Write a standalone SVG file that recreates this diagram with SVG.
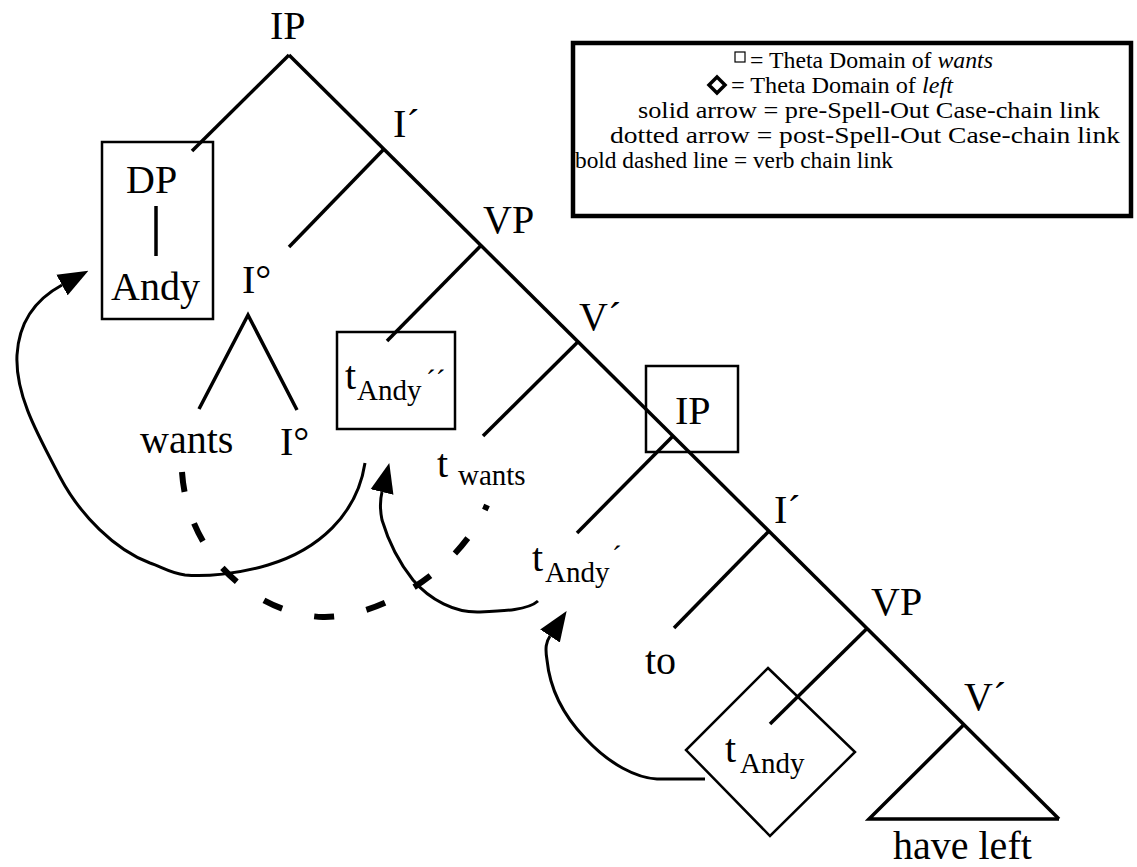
<svg xmlns="http://www.w3.org/2000/svg" width="1137" height="867" viewBox="0 0 1137 867">
  <style>
    .br { stroke: #000; stroke-width: 3.5; fill: none; stroke-linecap: butt; }
    .bx { stroke: #000; stroke-width: 2.5; fill: none; }
    .lb { font-family: "Liberation Serif", "Times New Roman", serif; font-size: 40px; fill: #000; }
    .sb { font-family: "Liberation Serif", "Times New Roman", serif; font-size: 29px; fill: #000; }
    .lg { font-family: "Liberation Serif", "Times New Roman", serif; font-size: 23px; fill: #000; }
    .arc { stroke: #000; stroke-width: 3; fill: none; stroke-linejoin: round; marker-end: url(#head); }
    .verb { stroke: #000; stroke-width: 6; fill: none; stroke-dasharray: 20 33; }
  </style>
  <defs>
    <marker id="head" markerUnits="userSpaceOnUse" markerWidth="30" markerHeight="24" viewBox="0 0 28 22" refX="0" refY="11" orient="auto">
      <path d="M0,0 L28,11 L0,22 Z" fill="#000"/>
    </marker>
  </defs>
  <rect width="1137" height="867" fill="#fff"/>

  <!-- main spine and branches -->
  <g id="tree">
    <path class="br" d="M289,55 L1059,819"/>
    <path class="br" d="M289,55 L192,151"/>
    <path class="br" d="M384,149 L289,247"/>
    <path class="br" d="M481,245.5 L387,341"/>
    <path class="br" d="M578,341.7 L483,436"/>
    <path class="br" d="M673,436 L577,533"/>
    <path class="br" d="M769,531 L674,628"/>
    <path class="br" d="M867,628.4 L770,724"/>
  </g>

  <g id="ip-top"><text class="lb" x="270" y="39">IP</text></g>
  <g id="ibar-top"><text class="lb" x="393" y="137">I´</text></g>

  <g id="dp">
    <rect class="bx" x="102" y="142" width="111" height="177"/>
    <text class="lb" x="126" y="193">DP</text>
    <path class="br" d="M156,206 L156,256" stroke-width="2.5"/>
    <text class="lb" x="111" y="300">Andy</text>
  </g>

  <g id="i-head">
    <text class="lb" x="242" y="293">I°</text>
    <path class="br" d="M199,409 L248,315 L297,410"/>
    <text class="lb" x="140" y="453">wants</text>
    <text class="lb" x="280" y="455">I°</text>
  </g>

  <g id="vp-top"><text class="lb" x="483" y="233">VP</text></g>

  <g id="t-andy-2">
    <rect class="bx" x="337" y="332" width="118" height="97"/>
    <text class="lb" x="345" y="389">t</text>
    <text class="sb" x="357" y="400">Andy</text>
    <text class="sb" x="426" y="390">´´</text>
  </g>

  <g id="vbar-top"><text class="lb" x="579" y="330">V´</text></g>

  <g id="t-wants">
    <text class="lb" x="437" y="477">t</text>
    <text class="sb" x="458" y="485">wants</text>
  </g>

  <g id="ip-low">
    <rect class="bx" x="646" y="366" width="92" height="86"/>
    <text class="lb" x="675" y="424">IP</text>
  </g>

  <g id="t-andy-1">
    <text class="lb" x="532" y="571">t</text>
    <text class="sb" x="545" y="582">Andy</text>
    <text class="sb" x="612" y="566">´</text>
  </g>

  <g id="ibar-low"><text class="lb" x="774" y="523">I´</text></g>
  <g id="to"><text class="lb" x="645" y="674">to</text></g>
  <g id="vp-low"><text class="lb" x="871" y="615">VP</text></g>
  <g id="vbar-low"><text class="lb" x="964" y="710">V´</text></g>

  <g id="t-andy-0">
    <polygon class="bx" points="768,668 855,752 770,836 686,750" stroke-width="3"/>
    <text class="lb" x="725" y="762">t</text>
    <text class="sb" x="740" y="773">Andy</text>
  </g>

  <g id="have-left">
    <path class="br" d="M964,724.6 L869,819 L1059,819"/>
    <text class="lb" x="893" y="859">have left</text>
  </g>

  <!-- movement links -->
  <g id="connectors">
    <path class="verb" d="M182,472 C188,560 260,615 323,617 C380,618 460,570 487,505"/>
    <path class="arc" d="M365,463 C357,515 318,550 268,565 C238,574 205,577 185,575 C170,573 160,566 150,563 C115,550 80,515 60,477 C38,435 15,395 17,355 C19,320 38,298 62,285"/>
    <path class="arc" d="M538,601 C528,610 505,611 480,612 C455,613 430,600 413,580 C393,555 385,530 382,520 C380,510 380,500 382,492"/>
    <path class="arc" d="M705,779 L657,779 C637,778 610,765 585,738 C565,717 550,690 547,660 C545,648 546,642 550,636"/>
  </g>

  <!-- key -->
  <g id="legend">
    <rect x="573" y="43" width="558" height="173" fill="none" stroke="#000" stroke-width="4.5"/>
    <rect x="735" y="52" width="10" height="10" fill="none" stroke="#000" stroke-width="1.2"/>
    <text class="lg" x="750" y="68" textLength="243" lengthAdjust="spacingAndGlyphs">= Theta Domain of <tspan font-style="italic">wants</tspan></text>
    <polygon points="717,77 725,85 717,93 709,85" fill="none" stroke="#000" stroke-width="3.5"/>
    <text class="lg" x="731" y="93" textLength="222" lengthAdjust="spacingAndGlyphs">= Theta Domain of <tspan font-style="italic">left</tspan></text>
    <text class="lg" x="638" y="118" textLength="462" lengthAdjust="spacingAndGlyphs">solid arrow = pre-Spell-Out Case-chain link</text>
    <text class="lg" x="610" y="143" textLength="510" lengthAdjust="spacingAndGlyphs">dotted arrow = post-Spell-Out Case-chain link</text>
    <text class="lg" x="575" y="168" textLength="318" lengthAdjust="spacingAndGlyphs">bold dashed line = verb chain link</text>
  </g>
</svg>
